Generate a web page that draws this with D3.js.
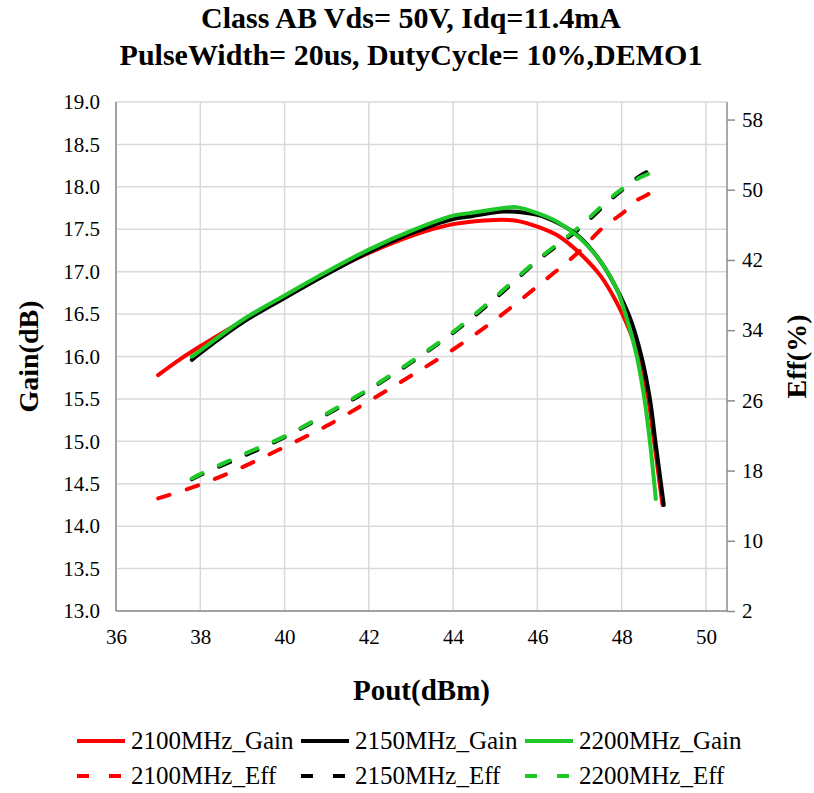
<!DOCTYPE html>
<html>
<head>
<meta charset="utf-8">
<script src="https://cdn.jsdelivr.net/npm/d3@7"></script>
<style>
  body { margin: 0; background: #fff; }
  svg text { font-family: "Liberation Serif", "Times New Roman", serif; fill: #000; }
  .grid line { stroke: #d9d9d9; stroke-width: 1.5; }
  .axis path, .axis line { stroke: #8c8c8c; stroke-width: 1.5; }
</style>
</head>
<body>
<div id="chart"></div>
<script>

// Pout (dBm) for each curve
var poutGain2100 = [37.0, 37.5, 38.0, 39.0, 40.0, 41.0, 42.0, 43.0, 44.0, 45.0, 45.5, 46.0, 46.5, 47.0, 47.5, 47.88, 48.1, 48.42, 48.63, 48.77, 48.89, 48.97];
var gain2100     = [15.78, 15.96, 16.12, 16.42, 16.70, 16.98, 17.22, 17.42, 17.56, 17.61, 17.60, 17.53, 17.42, 17.22, 16.95, 16.64, 16.41, 15.99, 15.5, 15.0, 14.55, 14.25];

var poutGain2150 = [37.8, 38.0, 39.0, 40.0, 41.0, 42.0, 43.0, 44.0, 44.4, 45.2, 46.0, 46.5, 47.0, 47.5, 47.88, 48.2, 48.47, 48.67, 48.8, 48.92, 49.0];
var gain2150     = [15.96, 16.04, 16.40, 16.69, 16.97, 17.23, 17.45, 17.62, 17.65, 17.71, 17.67, 17.57, 17.41, 17.12, 16.80, 16.45, 16.0, 15.5, 15.0, 14.55, 14.25];

var poutGain2200 = [37.8, 38.0, 39.0, 40.0, 41.0, 42.0, 43.0, 44.0, 44.4, 45.2, 45.5, 46.0, 46.5, 47.0, 47.5, 47.88, 48.12, 48.36, 48.54, 48.67, 48.81];
var gain2200     = [16.0, 16.07, 16.43, 16.72, 17.0, 17.26, 17.48, 17.66, 17.69, 17.75, 17.76, 17.69, 17.58, 17.40, 17.12, 16.80, 16.45, 16.0, 15.5, 15.0, 14.32];

var poutEff2100 = [37.0, 38.0, 39.0, 40.0, 41.0, 42.0, 43.0, 44.0, 45.0, 46.0, 47.0, 47.56, 48.04, 48.36, 48.6, 48.91];
var eff2100     = [14.83, 16.4, 18.4, 20.7, 23.1, 25.9, 28.8, 31.8, 35.2, 39.0, 43.0, 45.7, 47.4, 48.8, 49.4, 50.4];

var poutEff2150 = [37.8, 38.0, 39.0, 40.0, 41.0, 42.0, 43.0, 44.0, 45.0, 46.0, 47.0, 47.72, 48.04, 48.51, 48.93];
var eff2150     = [17.0, 17.5, 19.6, 21.8, 24.4, 27.2, 30.3, 33.7, 37.6, 41.9, 45.6, 48.8, 50.1, 51.8, 52.7];

var poutEff2200 = [37.8, 38.0, 39.0, 40.0, 41.0, 42.0, 43.0, 44.0, 45.0, 46.0, 47.0, 47.72, 48.04, 48.4, 48.63];
var eff2200     = [17.1, 17.6, 19.8, 21.9, 24.5, 27.3, 30.4, 33.8, 37.8, 42.0, 45.8, 49.0, 50.2, 51.3, 51.8];

var seriesNames  = ["2100MHz_Gain", "2150MHz_Gain", "2200MHz_Gain", "2100MHz_Eff", "2150MHz_Eff", "2200MHz_Eff"];
var seriesColors = ["#ff0000", "#000000", "#1ec828", "#ff0000", "#000000", "#1ec828"];

var xTicks    = [36, 38, 40, 42, 44, 46, 48, 50];
var gainTicks = [13.0, 13.5, 14.0, 14.5, 15.0, 15.5, 16.0, 16.5, 17.0, 17.5, 18.0, 18.5, 19.0];
var effTicks  = [2, 10, 18, 26, 34, 42, 50, 58];

var titleLines = ["Class AB Vds= 50V, Idq=11.4mA", "PulseWidth= 20us, DutyCycle= 10%,DEMO1"];


var W = 814, H = 793;
var margin = { top: 102, right: 87, bottom: 182, left: 116 };
var width = W - margin.left - margin.right,
    height = H - margin.top - margin.bottom;
var serif = "'Liberation Serif', 'Times New Roman', serif";

var svg = d3.select("#chart").append("svg")
    .attr("width", W)
    .attr("height", H);

var g = svg.append("g")
    .attr("transform", "translate(" + margin.left + "," + margin.top + ")");

// Scales
var x = d3.scaleLinear().domain([36, 50.5]).range([0, width]);
var yGain = d3.scaleLinear().domain([13, 19]).range([height, 0]);
var yEff = d3.scaleLinear().domain([2, 60]).range([height, 0]);

// Gridlines
g.append("g").attr("class", "grid")
    .selectAll("line").data(gainTicks).enter().append("line")
    .attr("x1", 0).attr("x2", width)
    .attr("y1", function(d){ return yGain(d); })
    .attr("y2", function(d){ return yGain(d); });

g.append("g").attr("class", "grid")
    .selectAll("line").data(xTicks).enter().append("line")
    .attr("y1", 0).attr("y2", height)
    .attr("x1", function(d){ return x(d); })
    .attr("x2", function(d){ return x(d); });

// Axes
function styleAxis(a){
    a.attr("font-family", serif).attr("font-size", 21);
    a.selectAll("text").style("font-family", serif).style("font-size", "21px");
}

g.append("g").attr("class", "axis")
    .attr("transform", "translate(0," + height + ")")
    .call(d3.axisBottom(x).tickValues(xTicks).tickSize(0).tickPadding(18).tickFormat(d3.format("d")))
    .call(function(a){ a.select(".domain").attr("d", "M0,0H" + width); })
    .call(styleAxis);

g.append("g").attr("class", "axis")
    .call(d3.axisLeft(yGain).tickValues(gainTicks).tickSize(0).tickPadding(16).tickFormat(d3.format(".1f")))
    .call(function(a){ a.select(".domain").attr("d", "M0," + height + "V0"); })
    .call(styleAxis);

g.append("g").attr("class", "axis")
    .attr("transform", "translate(" + width + ",0)")
    .call(d3.axisRight(yEff).tickValues(effTicks).tickSizeInner(8).tickSizeOuter(0).tickPadding(7))
    .call(function(a){ a.select(".domain").attr("d", "M0," + height + "V0"); })
    .call(styleAxis);

// Lines (smoothed like the spreadsheet curves)
var gainLine = d3.line()
    .curve(d3.curveCatmullRom.alpha(0.5))
    .x(function(d){ return x(d[0]); })
    .y(function(d){ return yGain(d[1]); });

var effLine = d3.line()
    .curve(d3.curveCatmullRom.alpha(0.5))
    .x(function(d){ return x(d[0]); })
    .y(function(d){ return yEff(d[1]); });

var series = [
    { pout: poutEff2100, val: eff2100, line: effLine, dashed: true },
    { pout: poutEff2150, val: eff2150, line: effLine, dashed: true },
    { pout: poutEff2200, val: eff2200, line: effLine, dashed: true },
    { pout: poutGain2100, val: gain2100, line: gainLine, dashed: false },
    { pout: poutGain2150, val: gain2150, line: gainLine, dashed: false },
    { pout: poutGain2200, val: gain2200, line: gainLine, dashed: false }
];
var colorOf = [3, 4, 5, 0, 1, 2];

series.forEach(function(s, i){
    g.append("path")
        .datum(d3.zip(s.pout, s.val))
        .attr("fill", "none")
        .attr("stroke", seriesColors[colorOf[i]])
        .attr("stroke-width", 4)
        .attr("stroke-linecap", "round")
        .attr("stroke-linejoin", "round")
        .attr("stroke-dasharray", s.dashed ? "12,18" : null)
        .attr("d", s.line);
});

// Titles
svg.selectAll(".title").data(titleLines).enter().append("text")
    .attr("class", "title")
    .attr("x", 411)
    .attr("y", function(d, i){ return 28 + i * 37; })
    .attr("text-anchor", "middle")
    .style("font-size", "30px")
    .style("font-weight", "bold")
    .text(function(d){ return d; });

svg.append("text")
    .attr("x", margin.left + width / 2)
    .attr("y", 700)
    .attr("text-anchor", "middle")
    .style("font-size", "29px")
    .style("font-weight", "bold")
    .text("Pout(dBm)");

svg.append("text")
    .attr("transform", "translate(38," + (margin.top + height / 2) + ") rotate(-90)")
    .attr("text-anchor", "middle")
    .style("font-size", "28px")
    .style("font-weight", "bold")
    .text("Gain(dB)");

svg.append("text")
    .attr("transform", "translate(806," + (margin.top + height / 2) + ") rotate(-90)")
    .attr("text-anchor", "middle")
    .style("font-size", "28px")
    .style("font-weight", "bold")
    .text("Eff(%)");

// Legend
var legend = svg.append("g").attr("class", "legend");
seriesNames.forEach(function(name, i){
    var col = i % 3, row = Math.floor(i / 3);
    var lx = 77 + col * 224, ly = 741 + row * 35;
    legend.append("line")
        .attr("x1", lx).attr("x2", lx + 48)
        .attr("y1", ly).attr("y2", ly)
        .attr("stroke", seriesColors[i])
        .attr("stroke-width", 4)
        .attr("stroke-dasharray", row === 1 ? "12,20" : null);
    legend.append("text")
        .attr("x", lx + 54)
        .attr("y", ly + 8)
        .style("font-size", "25px")
        .text(name);
});

</script>
</body>
</html>
